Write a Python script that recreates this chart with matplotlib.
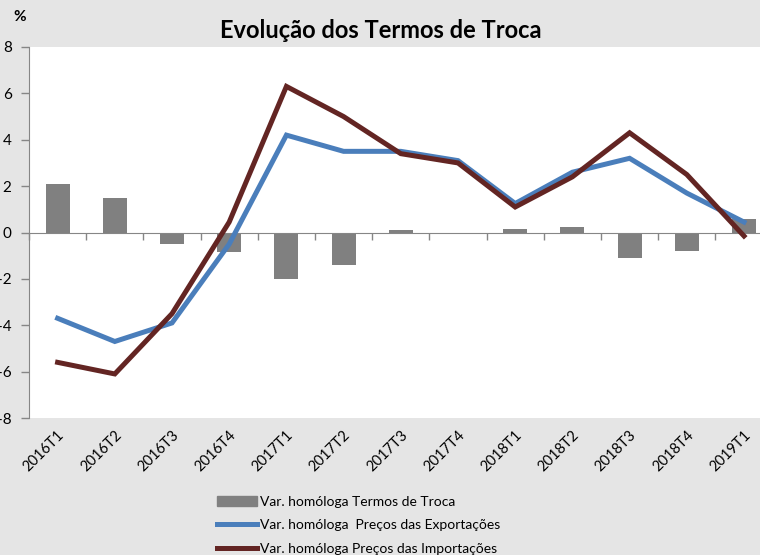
import numpy as np
import matplotlib.pyplot as plt
from matplotlib.patches import Patch
from matplotlib.lines import Line2D

plt.rcParams['font.family'] = ['Lato', 'DejaVu Sans']

# Data
quarters = ['2016T1', '2016T2', '2016T3', '2016T4',
            '2017T1', '2017T2', '2017T3', '2017T4',
            '2018T1', '2018T2', '2018T3', '2018T4', '2019T1']
termos_troca = [2.1, 1.5, -0.5, -0.85, -2.0, -1.4, 0.1, -0.05,
                0.15, 0.22, -1.1, -0.8, 0.57]
precos_export = [-3.7, -4.7, -3.9, -0.5, 4.2, 3.5, 3.5, 3.1,
                 1.25, 2.6, 3.2, 1.7, 0.45]
precos_import = [-5.6, -6.1, -3.5, 0.45, 6.3, 5.0, 3.4, 3.0,
                 1.1, 2.4, 4.3, 2.5, -0.15]
yticks = [-8, -6, -4, -2, 0, 2, 4, 6, 8]

grey_bg = '#e5e5e5'
bar_col = '#808080'
blue = '#4a7ebb'
red = '#632523'
axis_col = '#868686'

fig = plt.figure(figsize=(7.6, 5.55), dpi=100, facecolor=grey_bg)
ax = fig.add_axes([29 / 760, 137 / 555, 743.6 / 760, 371 / 555])
ax.set_facecolor('white')

x = np.arange(len(quarters))
ax.bar(x, termos_troca, width=0.42, color=bar_col, zorder=2)
ax.plot(x, precos_export, color=blue, lw=3.6, solid_joinstyle='miter', zorder=3)
ax.plot(x, precos_import, color=red, lw=3.6, solid_joinstyle='miter', zorder=4)

ax.set_xlim(-0.5, len(quarters) - 0.5)
ax.set_ylim(-8, 8)
ax.set_yticks(yticks)
ax.set_yticklabels([str(v) for v in yticks], fontsize=11)
ax.tick_params(axis='y', length=6, width=1, color=axis_col, pad=6.5, direction='out')

# category axis crosses at zero
for s in ['top', 'right']:
    ax.spines[s].set_visible(False)
ax.spines['left'].set_color(axis_col)
ax.spines['bottom'].set_position(('data', 0))
ax.spines['bottom'].set_color(axis_col)
ax.set_xticks(np.arange(len(quarters) + 1) - 0.5)
ax.set_xticklabels([])
ax.tick_params(axis='x', length=5, width=1, color=axis_col, direction='out')

trans = ax.get_xaxis_transform()
for i, q in enumerate(quarters):
    ax.text(i + 0.08, -0.04, q, transform=trans, rotation=45, rotation_mode='anchor',
            ha='right', va='center', fontsize=10.5)

fig.text(13 / 760, 1 - 17 / 555, '%', fontsize=11, fontweight='bold',
         ha='left', va='center')
fig.text(381 / 760, 1 - 31 / 555, 'Evolução dos Termos de Troca', fontsize=17,
         fontweight='bold', ha='center', va='center')

handles = [Patch(color=bar_col),
           Line2D([], [], color=blue, lw=3.6),
           Line2D([], [], color=red, lw=3.6)]
labels = ['Var. homóloga Termos de Troca',
          'Var. homóloga  Preços das Exportações',
          'Var. homóloga Preços das Importações']
fig.legend(handles, labels, loc='upper left', bbox_to_anchor=(204 / 760, 1 - 483 / 555),
           frameon=False, fontsize=10, handlelength=2.9, handletextpad=0.2,
           labelspacing=0.85)

fig.savefig('out.png', dpi=100, facecolor=grey_bg)
